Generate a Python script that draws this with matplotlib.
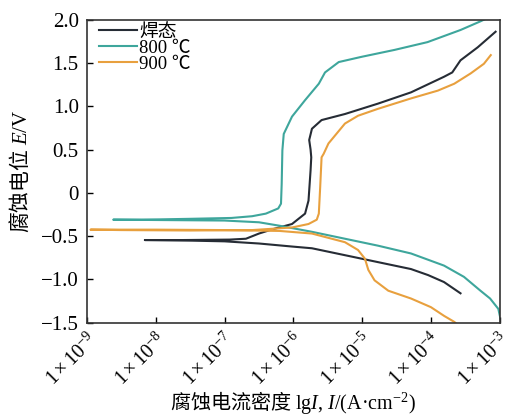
import numpy as np
import matplotlib
matplotlib.use("Agg")
import matplotlib.pyplot as plt
from matplotlib.ticker import FixedLocator, FuncFormatter

plt.rcParams['font.family'] = ['Liberation Serif', 'Noto Sans CJK SC']
plt.rcParams['mathtext.fontset'] = 'custom'
plt.rcParams['mathtext.rm'] = 'Liberation Serif'
plt.rcParams['mathtext.it'] = 'Liberation Serif:italic'

# polarization curves: lg(I) and E (V), one continuous sweep per sample
# (cathodic branch from high current down to E_corr, then anodic branch)
labels = ['焊态', '800 ℃', '900 ℃']
colors = ['#262c35', '#3ea69c', '#e8a03e']

lgi_weld = [-3.57, -3.81, -4.04, -4.29, -4.77, -5.25, -5.73, -6.02, -6.5, -7.0, -7.6, -8.16,
            -7.6, -6.93, -6.69, -6.5, -6.3, -6.02, -5.83, -5.78, -5.75, -5.74, -5.75, -5.77,
            -5.73, -5.59, -5.25, -4.77, -4.29, -3.81, -3.69, -3.57, -3.32, -3.06]
e_weld = [-1.16, -1.03, -0.95, -0.88, -0.80, -0.72, -0.64, -0.62, -0.585, -0.56, -0.55, -0.545,
          -0.545, -0.54, -0.53, -0.47, -0.42, -0.36, -0.24, -0.09, 0.26, 0.41, 0.50, 0.61,
          0.74, 0.84, 0.91, 1.03, 1.16, 1.34, 1.39, 1.53, 1.68, 1.86]

lgi_800 = [-2.99, -3.02, -3.14, -3.28, -3.52, -3.81, -4.29, -4.77, -5.25, -5.73, -6.2, -6.5,
           -7.0, -7.8, -8.62,
           -8.2, -7.5, -6.9, -6.6, -6.4, -6.22, -6.18, -6.17, -6.16, -6.14, -6.02, -5.83,
           -5.63, -5.54, -5.34, -5.01, -4.53, -4.05, -3.57, -3.28, -3.2]
e_800 = [-1.45, -1.34, -1.22, -1.13, -0.97, -0.84, -0.70, -0.61, -0.53, -0.45, -0.38, -0.34,
         -0.32, -0.315, -0.31,
         -0.31, -0.30, -0.29, -0.27, -0.24, -0.18, -0.125, 0.10, 0.49, 0.68, 0.88, 1.07,
         1.26, 1.39, 1.51, 1.57, 1.65, 1.74, 1.88, 1.98, 2.01]

lgi_900 = [-3.6, -3.66, -3.81, -4.0, -4.29, -4.62, -4.82, -4.91, -4.96, -5.06, -5.25, -5.73,
           -6.2, -7.0, -8.0, -8.95,
           -8.5, -7.5, -6.6, -6.02, -5.78, -5.66, -5.63, -5.61, -5.59, -5.56, -5.49, -5.25,
           -5.06, -4.77, -4.29, -3.90, -3.66, -3.42, -3.23, -3.13]
e_900 = [-1.53, -1.49, -1.42, -1.32, -1.22, -1.13, -1.01, -0.89, -0.76, -0.66, -0.57, -0.47,
         -0.44, -0.43, -0.425, -0.425,
         -0.43, -0.435, -0.43, -0.40, -0.36, -0.31, -0.24, 0.07, 0.41, 0.45, 0.57, 0.80,
         0.89, 0.97, 1.09, 1.18, 1.26, 1.38, 1.49, 1.59]

x_exponents = [-9, -8, -7, -6, -5, -4, -3]
y_ticks = [-1.5, -1.0, -0.5, 0, 0.5, 1.0, 1.5, 2.0]

fig = plt.figure(figsize=(5.12, 4.17), dpi=100)
ax = fig.add_axes([0.170, 0.226, 0.806, 0.727])

for lgi, e, lab, c in zip([lgi_weld, lgi_800, lgi_900], [e_weld, e_800, e_900], labels, colors):
    ax.plot(10.0 ** np.array(lgi), e, color=c, lw=1.5, label=lab)

ax.set_xscale('log')
ax.set_xlim(1e-9, 1e-3)
ax.set_ylim(-1.5, 2.0)

ax.xaxis.set_major_locator(FixedLocator([10.0 ** p for p in x_exponents]))
ax.xaxis.set_minor_locator(FixedLocator([]))
ax.set_xticklabels([r'$1\times10^{%d}$' % p for p in x_exponents],
                   rotation=45, ha='right', rotation_mode='anchor')
ax.yaxis.set_major_locator(FixedLocator(y_ticks))
ax.yaxis.set_major_formatter(FuncFormatter(
    lambda v, pos: '0' if v == 0 else ('%.1f' % v).replace('-', '\u2212')))

ax.tick_params(direction='in', length=4, width=1.0, labelsize=15, pad=6)
ax.tick_params(axis='x', pad=5, labelsize=14.5)
for s in ax.spines.values():
    s.set_linewidth(1.2)
    s.set_color('#333333')

ax.set_xlabel('腐蚀电流密度 $\\mathrm{lg}I\\mathrm{,}\\ I\\mathrm{/(A\u00b7cm^{\u22122})}$',
              fontsize=14.5, family='Noto Sans CJK SC')
ax.set_ylabel('腐蚀电位 $E\\mathrm{/V}$', fontsize=15, family='Noto Sans CJK SC')
ax.xaxis.set_label_coords(0.5, -0.218)
ax.yaxis.set_label_coords(-0.135, 0.5)

ax.legend(loc='upper left', frameon=False, fontsize=13.5, handlelength=2.0,
          handletextpad=0.15, labelspacing=-0.05, borderaxespad=0.0,
          borderpad=0.2, bbox_to_anchor=(0.02, 1.0))

fig.savefig('out.png', dpi=100)
